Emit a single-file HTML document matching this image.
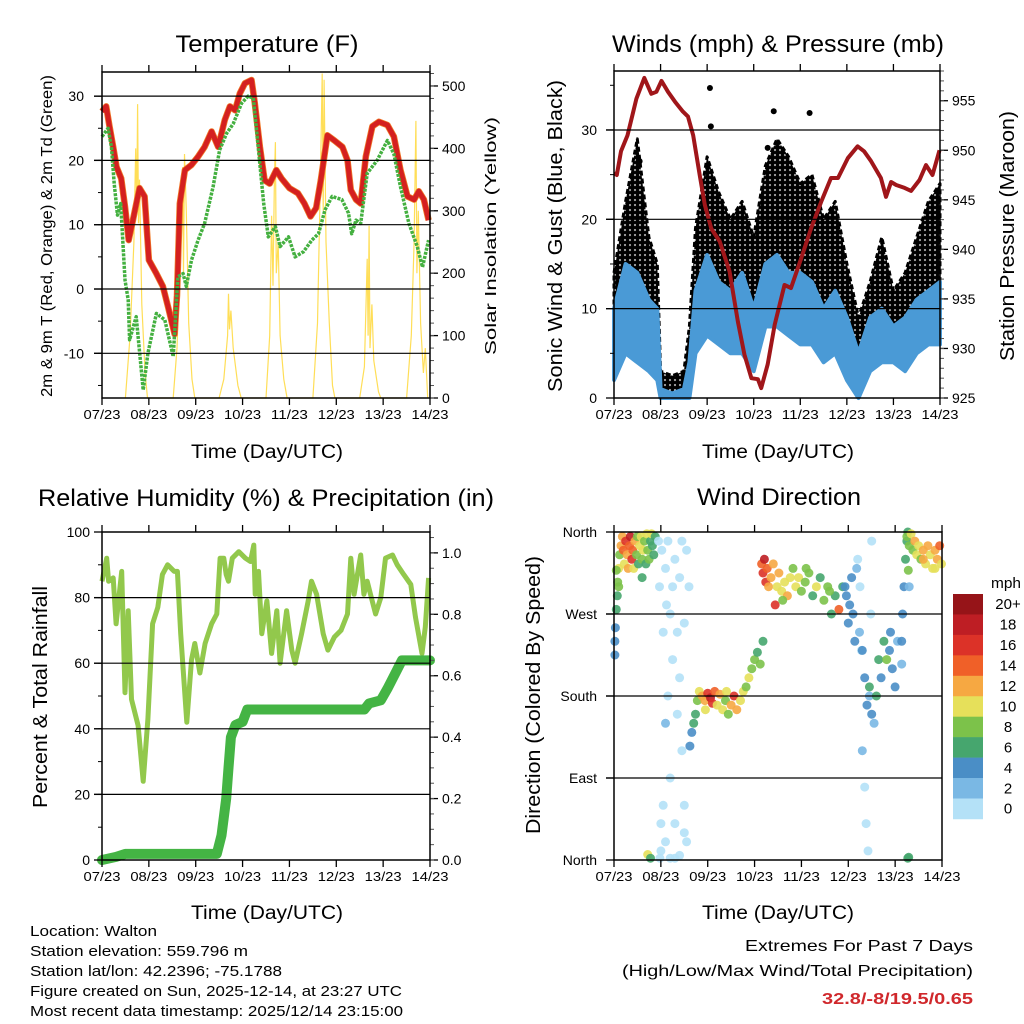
<!DOCTYPE html>
<html><head><meta charset="utf-8"><title>Walton station plots</title>
<style>
html,body{margin:0;padding:0;background:#fff;}
svg{display:block;font-family:"Liberation Sans",Arial,sans-serif;}
</style></head>
<body>
<svg id="chart" width="1024" height="1024" viewBox="0 0 1024 1024" xmlns="http://www.w3.org/2000/svg">
<defs>
<pattern id="gustDots" patternUnits="userSpaceOnUse" width="5" height="5">
<circle cx="2.5" cy="2.5" r="2.8" fill="#000"/>
</pattern>
</defs>
<rect x="0" y="0" width="1024" height="1024" fill="#fff"/>
<text x="267" y="52" font-size="24" text-anchor="middle" textLength="183" lengthAdjust="spacingAndGlyphs">Temperature (F)</text>
<text x="778" y="52" font-size="24" text-anchor="middle" textLength="332" lengthAdjust="spacingAndGlyphs">Winds (mph) &amp; Pressure (mb)</text>
<text x="266" y="506" font-size="24" text-anchor="middle" textLength="456" lengthAdjust="spacingAndGlyphs">Relative Humidity (%) &amp; Precipitation (in)</text>
<text x="779" y="505" font-size="24" text-anchor="middle" textLength="164" lengthAdjust="spacingAndGlyphs">Wind Direction</text>
<text x="267" y="458" font-size="19" text-anchor="middle" textLength="152" lengthAdjust="spacingAndGlyphs">Time (Day/UTC)</text>
<text x="778" y="458" font-size="19" text-anchor="middle" textLength="152" lengthAdjust="spacingAndGlyphs">Time (Day/UTC)</text>
<text x="267" y="919" font-size="19" text-anchor="middle" textLength="152" lengthAdjust="spacingAndGlyphs">Time (Day/UTC)</text>
<text x="778" y="919" font-size="19" text-anchor="middle" textLength="152" lengthAdjust="spacingAndGlyphs">Time (Day/UTC)</text>
<text transform="rotate(-90 46 236)" x="46" y="242" font-size="16" text-anchor="middle" textLength="322" lengthAdjust="spacingAndGlyphs">2m &amp; 9m T (Red, Orange) &amp; 2m Td (Green)</text>
<text transform="rotate(-90 490 236)" x="490" y="242" font-size="16" text-anchor="middle" textLength="238" lengthAdjust="spacingAndGlyphs">Solar Insolation (Yellow)</text>
<text transform="rotate(-90 555 236)" x="555" y="243" font-size="20" text-anchor="middle" textLength="312" lengthAdjust="spacingAndGlyphs">Sonic Wind &amp; Gust (Blue, Black)</text>
<text transform="rotate(-90 1007 236)" x="1007" y="243" font-size="20" text-anchor="middle" textLength="250" lengthAdjust="spacingAndGlyphs">Station Pressure (Maroon)</text>
<text transform="rotate(-90 40 697)" x="40" y="704" font-size="20" text-anchor="middle" textLength="222" lengthAdjust="spacingAndGlyphs">Percent &amp; Total Rainfall</text>
<text transform="rotate(-90 533 695)" x="533" y="702" font-size="20" text-anchor="middle" textLength="278" lengthAdjust="spacingAndGlyphs">Direction (Colored By Speed)</text>
<g font-size="15">
<text x="30" y="936" textLength="127" lengthAdjust="spacingAndGlyphs">Location: Walton</text>
<text x="30" y="956" textLength="218" lengthAdjust="spacingAndGlyphs">Station elevation: 559.796 m</text>
<text x="30" y="976" textLength="252" lengthAdjust="spacingAndGlyphs">Station lat/lon: 42.2396; -75.1788</text>
<text x="30" y="996" textLength="372" lengthAdjust="spacingAndGlyphs">Figure created on Sun, 2025-12-14, at 23:27 UTC</text>
<text x="30" y="1016" textLength="373" lengthAdjust="spacingAndGlyphs">Most recent data timestamp: 2025/12/14 23:15:00</text>
</g>
<g font-size="16" text-anchor="end">
<text x="973" y="951" textLength="228" lengthAdjust="spacingAndGlyphs">Extremes For Past 7 Days</text>
<text x="973" y="976" textLength="351" lengthAdjust="spacingAndGlyphs">(High/Low/Max Wind/Total Precipitation)</text>
<text x="973" y="1004" font-weight="bold" fill="#d0282c" textLength="151" lengthAdjust="spacingAndGlyphs">32.8/-8/19.5/0.65</text>
</g>
<text x="991" y="588" font-size="15" textLength="30" lengthAdjust="spacingAndGlyphs">mph</text>
</svg>
<script>
const dayLabels = ["07/23","08/23","09/23","10/23","11/23","12/23","13/23","14/23"];
const tempT = [0,0.09,0.16,0.24,0.31,0.41,0.49,0.57,0.66,0.8,0.91,1.0,1.16,1.3,1.41,1.55,1.6,1.66,1.77,1.91,2.05,2.19,2.34,2.48,2.62,2.73,2.84,2.94,3.05,3.19,3.26,3.37,3.47,3.58,3.72,3.83,4.0,4.18,4.32,4.45,4.57,4.67,4.81,4.96,5.13,5.24,5.31,5.42,5.52,5.63,5.77,5.91,6.09,6.23,6.37,6.52,6.66,6.76,6.87,6.97];
const tempV = [27.6,28.4,25.3,22.1,19.0,17.2,12.8,7.6,10.7,15.7,14.4,4.5,2.4,0.4,-2.8,-7.0,-1.0,13.3,18.5,19.3,20.6,22.1,24.5,22.1,26.3,28.4,27.8,30.4,32.0,32.5,28.9,22.1,16.9,16.4,18.5,17.2,15.7,14.9,13.3,11.3,12.6,16.9,23.9,23.1,22.1,20.0,15.4,13.9,13.3,20.6,25.3,26.0,25.5,23.7,18.5,14.4,13.9,15.2,13.9,10.7];
const dewT = [0,0.13,0.2,0.26,0.33,0.4,0.49,0.56,0.59,0.73,0.88,0.98,1.16,1.34,1.52,1.62,1.73,1.8,1.91,2.05,2.19,2.37,2.51,2.66,2.8,2.98,3.12,3.23,3.34,3.45,3.55,3.7,3.8,3.98,4.12,4.3,4.48,4.62,4.76,4.91,5.12,5.26,5.33,5.42,5.52,5.66,5.87,6.09,6.23,6.37,6.55,6.73,6.84,6.97];
const dewV = [23.7,25.0,22.1,16.4,11.5,13.3,1.4,-1.7,-7.9,-4.3,-15.7,-10.0,-3.8,-4.8,-10.5,1.9,2.4,0.4,4.5,7.6,10.2,15.9,21.6,24.2,25.7,28.9,30.0,29.7,21.6,13.3,8.1,9.7,6.6,8.1,5.0,5.8,7.6,8.6,12.3,14.4,13.9,11.8,8.6,10.7,10.2,18.0,20.0,23.1,21.0,15.9,10.2,6.6,3.4,7.6];
const solarT = [0.5,0.6,0.68,0.72,0.74,0.76,0.78,0.8,0.85,0.92,0.97, 1.52,1.6,1.68,1.72,1.74,1.76,1.8,1.85,1.92,1.98, 2.5,2.6,2.68,2.7,2.72,2.75,2.8,2.9,2.97, 3.5,3.58,3.62,3.65,3.68,3.7,3.72,3.76,3.8,3.88,3.95, 4.5,4.6,4.66,4.7,4.72,4.74,4.78,4.85,4.92,4.97, 5.5,5.6,5.66,5.68,5.7,5.72,5.76,5.8,5.9,5.95, 6.5,6.6,6.66,6.7,6.72,6.75,6.8,6.86,6.9,6.95];
const solarV = [0,100,250,400,300,471,280,350,150,40,0, 0,80,250,370,200,391,300,120,30,0, 0,30,100,167,110,140,80,20,0, 0,100,292,180,350,410,200,250,100,30,0, 0,120,350,520,300,510,250,120,20,0, 0,50,223,100,276,80,150,60,10,0, 0,100,250,444,200,300,120,40,80,0];
const windT = [0,0.25,0.5,0.75,0.93,1.0,1.25,1.5,1.62,1.75,2.0,2.25,2.5,2.75,3.0,3.25,3.5,3.75,4.0,4.25,4.5,4.75,5.0,5.25,5.5,5.75,6.0,6.25,6.5,6.75,7.0];
const windLo = [2,5,4,3,2,0,0,0,0,5,7,6,5,5,3,8,8,7,6,6,4,5,2,0,3,4,4,3,5,6,6];
const windHi = [10,15,14,11,10,1,0.5,1,4,12,16,13,12,14,10,15,16,14,14,13,10,12,9,5,9,10,8,9,11,12,13];
const gustLo = [6,8,8,7,5,0.5,0.5,0.5,2,8,12,10,8,10,7,13,14,11,10,10,7,9,5,2,5,7,6,6,8,11,12];
const gustHi = [14,22,29,18,15,3,2.5,3,8,19,27,23,20,22,18,26,29,27,24,25,20,22,15,9,13,18,12,14,18,22,24];
const gustOutT = [2.06,2.08,3.43,4.2,0.55,3.3,1.5];
const gustOutV = [34.7,30.4,32.1,31.9,26.5,28.0,2.8];
const presT = [0,0.06,0.15,0.29,0.48,0.65,0.8,0.91,1.02,1.16,1.31,1.48,1.59,1.7,1.84,1.95,2.09,2.27,2.48,2.66,2.8,2.95,3.09,3.16,3.3,3.45,3.66,3.8,4.02,4.23,4.45,4.66,4.81,5.02,5.23,5.37,5.52,5.73,5.84,5.95,6.06,6.24,6.38,6.56,6.7,6.84,6.99];
const presV = [947.7,947.5,949.9,951.5,955.2,957.3,955.7,955.9,957.0,955.9,954.9,953.9,953.4,951.5,947.5,944.5,942.1,940.8,937.8,932.7,929.4,927.0,926.9,926.0,928.4,932.4,936.4,936.1,939.1,942.1,944.8,947.2,947.2,949.2,950.4,949.9,948.9,947.2,945.3,946.8,946.5,946.2,945.9,947.0,948.5,947.5,950.0];
const rhT = [0,0.1,0.14,0.24,0.3,0.42,0.49,0.56,0.63,0.77,0.88,0.98,1.08,1.19,1.29,1.4,1.54,1.61,1.68,1.81,1.91,1.98,2.09,2.2,2.34,2.45,2.52,2.6,2.65,2.7,2.78,2.92,3.06,3.17,3.24,3.27,3.34,3.41,3.52,3.62,3.73,3.8,3.94,4.05,4.12,4.26,4.4,4.47,4.58,4.72,4.82,4.96,5.1,5.24,5.31,5.38,5.52,5.59,5.66,5.73,5.84,5.95,6.05,6.2,6.3,6.44,6.59,6.69,6.83,6.9,6.97];
const rhV = [85,92,85,86,72,88,51,76,49,41,24,43,72,77,87,90,88,88,69,42,61,66,57,66,72,75,92,92,87,85,92,94,92,91,96,81,88,69,79,63,76,60,76,64,60,69,79,85,81,69,64,68,70,75,92,81,93,81,85,81,75,80,92,93,90,87,84,74,63,71,86];
const rainT = [0,0.3,0.5,1.0,1.5,2.0,2.45,2.55,2.65,2.7,2.75,2.85,3.0,3.1,3.5,4.0,4.5,5.0,5.6,5.7,5.95,6.1,6.3,6.4,7.0];
const rainV = [0,0.01,0.02,0.02,0.02,0.02,0.02,0.08,0.2,0.3,0.4,0.44,0.45,0.49,0.49,0.49,0.49,0.49,0.49,0.51,0.52,0.56,0.62,0.65,0.65];
const wdT = [0.02,0.02,0.03,0.05,0.07,0.08,0.1,0.12,0.15,0.18,0.2,0.22,0.25,0.28,0.3,0.33,0.35,0.38,0.4,0.42,0.45,0.48,0.5,0.52,0.55,0.58,0.6,0.62,0.65,0.68,0.7,0.72,0.75,0.78,0.8,0.82,0.85,0.88,0.6,0.05,0.1,0.72,0.78,
 0.95,0.97,1.0,1.02,1.05,1.05,1.1,1.1,1.12,1.15,1.15,1.2,1.2,1.25,1.25,1.3,1.3,1.35,1.35,1.4,1.4,1.45,1.45,1.5,1.5,1.5,1.2,0.98,1.3,1.55,1.55,1.6,1.0,1.1,1.4,
 1.62,1.66,1.7,1.74,1.78,1.82,1.88,1.94,2.0,2.06,2.1,2.15,2.2,2.26,2.32,2.38,2.44,2.5,2.56,2.62,2.7,2.76,2.82,2.88,2.94,3.0,3.06,3.12,3.18,1.95,2.4,
 3.15,3.18,3.21,3.24,3.27,3.3,3.35,3.4,3.44,3.48,3.52,3.58,3.64,3.7,3.76,3.82,3.88,3.94,4.0,4.08,4.16,4.24,4.32,4.4,4.48,4.56,4.64,4.72,4.8,4.88,3.6,4.1,4.6,
 4.93,4.96,5.0,5.03,5.07,5.1,5.14,5.18,5.24,
 5.2,5.25,5.28,5.3,5.35,5.38,5.42,5.45,5.48,5.5,
 5.3,5.35,5.4,5.45,5.5,5.55,5.6,5.65,5.7,5.76,5.82,5.88,5.94,6.0,6.05,5.9,
 6.14,6.16,6.19,6.22,6.25,6.27,6.14,
 6.25,6.3,6.34,6.38,6.42,6.46,6.5,6.55,6.6,6.65,6.7,6.75,6.8,6.85,6.9,6.95,6.99,6.28,6.3,6.27,6.29,6.6,6.85];
const wdDir = [225,240,255,275,290,305,320,335,345,355,340,325,350,335,320,345,355,330,340,320,350,335,355,325,345,355,330,340,350,325,358,340,330,350,358,345,335,355,310,318,300,6,2,
 350,300,10,340,250,60,20,320,280,180,350,90,270,220,300,40,330,160,250,200,310,120,350,30,260,60,2,2,2,340,20,300,40,150,5,
 125,140,150,160,175,185,180,175,183,178,172,185,170,182,165,175,160,170,180,165,175,185,190,200,210,220,228,215,240,165,185,
 325,315,330,305,320,300,310,325,280,300,315,295,305,290,310,320,300,310,295,305,315,290,300,310,285,300,270,290,275,300,285,320,295,
 300,290,260,280,310,270,240,320,250,
 330,300,230,120,80,40,10,180,270,350,
 230,200,170,190,160,150,180,220,200,240,220,230,210,190,240,250,
 240,270,300,330,350,360,215,
 355,345,358,340,350,335,345,330,340,325,345,335,320,340,330,345,325,318,300,2,3,330,320];
const wdSpd = [5,4,5,6,7,8,10,9,12,13,14,11,16,13,12,15,18,16,14,10,12,9,8,7,10,11,8,10,9,6,11,8,9,7,10,7,7,6,7,9,8,10,6,
 1,1,1,0,0,1,0,1,0,0,1,0,0,1,0,1,1,0,0,1,0,0,1,0,0,1,0,0,0,0,0,1,1,2,0,
 5,4,6,6,8,10,13,12,16,18,17,14,10,12,10,9,8,12,16,12,11,10,9,10,8,8,7,8,7,11,10,
 14,17,18,16,15,13,12,13,16,11,12,11,10,12,11,9,10,10,8,9,8,7,10,7,8,9,6,7,15,6,8,9,8,
 4,4,5,4,5,4,4,3,2,
 1,0,1,2,1,1,0,3,1,0,
 5,4,4,6,4,3,6,7,4,7,8,4,4,4,3,5,
 4,4,4,6,6,7,3,
 8,9,10,8,12,11,10,9,12,10,13,11,10,12,13,14,11,9,3,7,6,12,10];
const speedColors = ["#b4e1f7","#7ab8e4","#4a8ec6","#46a66e","#7cc24a","#e6e05a","#f6a842","#f06028","#dc3228","#be1e24","#961418"];
const speedLabels = ["0","2","4","6","8","10","12","14","16","18","20+"];

const NS = "http://www.w3.org/2000/svg";
const svg = document.getElementById('chart');
function mk(tag, attrs, parent) {
  const e = document.createElementNS(NS, tag);
  for (const k in attrs) e.setAttribute(k, attrs[k]);
  (parent || svg).appendChild(e);
  return e;
}
function scale(v0, v1, p0, p1) { return v => p0 + (v - v0) / (v1 - v0) * (p1 - p0); }
function pathFrom(ts, vs, sx, sy) {
  let d = "";
  for (let i = 0; i < ts.length; i++) d += (i ? "L" : "M") + sx(ts[i]).toFixed(1) + "," + sy(vs[i]).toFixed(1);
  return d;
}

const P1 = {x0:102, x1:430, y0:72, y1:398};
const P2 = {x0:614, x1:940, y0:71, y1:398};
const P3 = {x0:102, x1:430, y0:532, y1:860};
const P4 = {x0:614, x1:942, y0:532, y1:860};

function drawFrame(p, name) {
  const g = mk('g', {});
  
  
  const sx = scale(0, 7, p.x0, p.x1);
  for (let i = 0; i < dayLabels.length; i++) {
    const x = sx(i);
    mk('line', {x1:x, x2:x, y1:p.y1, y2:p.y1+7, stroke:'#000', 'stroke-width':1.3}, g);
    mk('line', {x1:x, x2:x, y1:p.y0, y2:p.y0-7, stroke:'#000', 'stroke-width':1.3}, g);
    const t = mk('text', {x:x, y:p.y1+21, 'font-size':13, 'text-anchor':'middle', textLength:37, lengthAdjust:'spacingAndGlyphs'}, g);
    t.textContent = dayLabels[i];
    
    
  }
  return g;
}
function drawBox(p, g) {
  mk('rect', {x:p.x0, y:p.y0, width:p.x1-p.x0, height:p.y1-p.y0, fill:'none', stroke:'#000', 'stroke-width':1.5}, g);
}
function leftAxis(p, g, vals, labels, sy, gridVals, minorStep, vmin, vmax, labelX, name) {
  for (let i = 0; i < vals.length; i++) {
    const y = sy(vals[i]);
    mk('line', {x1:p.x0-8, x2:p.x0, y1:y, y2:y, stroke:'#000', 'stroke-width':1.3}, g);
    const t = mk('text', {x:labelX, y:y+5, 'font-size':14, 'text-anchor':'end'}, g);
    t.textContent = labels[i];
    
    
  }
  if (minorStep) for (let v = Math.ceil(vmin/minorStep)*minorStep; v <= vmax; v += minorStep) {
    const y = sy(v);
    mk('line', {x1:p.x0-4, x2:p.x0, y1:y, y2:y, stroke:'#000', 'stroke-width':1}, g);
  }
  for (const v of gridVals) {
    const y = sy(v);
    const gl = mk('line', {x1:p.x0-8, x2:p.x1, y1:y, y2:y, stroke:'#000', 'stroke-width':1.2}, g);
    
    
  }
}
function rightAxis(p, g, vals, labels, sy, minorStep, vmin, vmax, name) {
  for (let i = 0; i < vals.length; i++) {
    const y = sy(vals[i]);
    mk('line', {x1:p.x1, x2:p.x1+8, y1:y, y2:y, stroke:'#000', 'stroke-width':1.3}, g);
    const t = mk('text', {x:p.x1+12, y:y+5, 'font-size':14}, g);
    t.textContent = labels[i];
    
    
  }
  for (let v = Math.ceil(vmin/minorStep)*minorStep; v <= vmax + 1e-9; v += minorStep) {
    const y = sy(v);
    mk('line', {x1:p.x1, x2:p.x1+4, y1:y, y2:y, stroke:'#555', 'stroke-width':1}, g);
  }
}

(function(){
  const p = P1;
  const g = drawFrame(p, 'temperature');
  const sx = scale(0, 7, p.x0, p.x1);
  const sy = scale(-16.95, 33.75, p.y1, p.y0);
  const ss = scale(0, 522.4, p.y1, p.y0);
  leftAxis(p, g, [-10,0,10,20,30], ["-10","0","10","20","30"], sy, [-10,0,10,20,30], 5, -16.9, 33.7, 84, 'temperature');
  rightAxis(p, g, [0,100,200,300,400,500], ["0","100","200","300","400","500"], ss, 20, 0, 522, 'solar');
  const solar = mk('path', {d:pathFrom(solarT, solarV, sx, ss), fill:'none', stroke:'#ffd83a', 'stroke-width':1.2, 'stroke-opacity':0.85});
  
  
  const t9 = mk('path', {d:pathFrom(tempT, tempV, sx, sy), fill:'none', stroke:'#f07a28', 'stroke-width':6.5, 'stroke-linejoin':'round'});
  
  
  const t2 = mk('path', {d:pathFrom(tempT, tempV, sx, sy), fill:'none', stroke:'#d42020', 'stroke-width':5, 'stroke-linejoin':'round'});
  
  
  const td = mk('path', {d:pathFrom(dewT, dewV, sx, sy), fill:'none', stroke:'#44b040', 'stroke-width':3.5, 'stroke-dasharray':'3 1.2', 'stroke-linejoin':'round'});
  
  
  drawBox(p, g);
  svg.appendChild(g);
})();

(function(){
  const p = P2;
  const g = drawFrame(p, 'winds');
  const sx = scale(0, 7, p.x0, p.x1);
  const sy = scale(0, 36.6, p.y1, p.y0);
  const sp = scale(925, 958, p.y1, p.y0);
  leftAxis(p, g, [0,10,20,30], ["0","10","20","30"], sy, [10,20,30], 5, 0, 36, 597, 'winds');
  rightAxis(p, g, [925,930,935,940,945,950,955], ["925","930","935","940","945","950","955"], sp, 1, 925, 958, 'pressure');
  function band(lo, hi) {
    let d = "";
    for (let i = 0; i < windT.length; i++) d += (i ? "L" : "M") + sx(windT[i]).toFixed(1) + "," + sy(hi[i]).toFixed(1);
    for (let i = windT.length - 1; i >= 0; i--) d += "L" + sx(windT[i]).toFixed(1) + "," + sy(lo[i]).toFixed(1);
    return d + "Z";
  }
  const gust = mk('path', {d:band(gustLo, gustHi), fill:'url(#gustDots)', stroke:'#000', 'stroke-width':3, 'stroke-dasharray':'5 3', 'stroke-linejoin':'round'});
  
  
  for (let i = 0; i < gustOutT.length; i++) {
    const c = mk('circle', {cx:sx(gustOutT[i]), cy:sy(gustOutV[i]), r:3, fill:'#000'});
    
    
  }
  const wind = mk('path', {d:band(windLo, windHi), fill:'#4a9ad6', stroke:'#4a9ad6', 'stroke-width':4, 'stroke-linejoin':'round'});
  
  
  const pr = mk('path', {d:pathFrom(presT, presV, sx, sp), fill:'none', stroke:'#a0161a', 'stroke-width':4, 'stroke-linejoin':'round'});
  
  
  drawBox(p, g);
  svg.appendChild(g);
})();

(function(){
  const p = P3;
  const g = drawFrame(p, 'humidity');
  const sx = scale(0, 7, p.x0, p.x1);
  const sy = scale(0, 100, p.y1, p.y0);
  const sr = scale(0, 1.068, p.y1, p.y0);
  leftAxis(p, g, [0,20,40,60,80,100], ["0","20","40","60","80","100"], sy, [20,40,60,80], 10, 0, 100, 90, 'humidity');
  rightAxis(p, g, [0,0.2,0.4,0.6,0.8,1.0], ["0.0","0.2","0.4","0.6","0.8","1.0"], sr, 0.05, 0, 1.06, 'precipitation');
  const rh = mk('path', {d:pathFrom(rhT, rhV, sx, sy), fill:'none', stroke:'#92c84c', 'stroke-width':5, 'stroke-linejoin':'round'});
  
  
  const rn = mk('path', {d:pathFrom(rainT, rainV, sx, sr), fill:'none', stroke:'#44b444', 'stroke-width':10, 'stroke-linejoin':'round', 'stroke-linecap':'round'});
  
  
  drawBox(p, g);
  svg.appendChild(g);
})();

(function(){
  const p = P4;
  const g = drawFrame(p, 'direction');
  const sx = scale(0, 7, p.x0, p.x1);
  const sy = scale(0, 360, p.y1, p.y0);
  leftAxis(p, g, [0,90,180,270,360], ["North","East","South","West","North"], sy, [90,180,270], 0, 0, 360, 597, 'direction');
  const n = Math.min(wdT.length, wdDir.length, wdSpd.length);
  for (let i = 0; i < n; i++) {
    const bin = Math.min(10, Math.floor(wdSpd[i] / 2));
    const c = mk('circle', {cx:sx(wdT[i]).toFixed(1), cy:sy(wdDir[i]).toFixed(1), r:4.5, fill:speedColors[bin], 'fill-opacity':0.9});
    
    
  }
  drawBox(p, g);
  svg.appendChild(g);
  const cb = mk('g', {});
  
  
  const top = 594, h = 20.45;
  for (let i = 0; i < 11; i++) {
    const k = 10 - i;
    const r = mk('rect', {x:953, y:top + i*h, width:30, height:h+0.3, fill:speedColors[k]}, cb);
    
    
    const t = mk('text', {x:1008, y:top + i*h + h/2 + 5, 'font-size':15, 'text-anchor':'middle'}, cb);
    t.textContent = speedLabels[k];
    
    
  }
})();
</script>
</body></html>
